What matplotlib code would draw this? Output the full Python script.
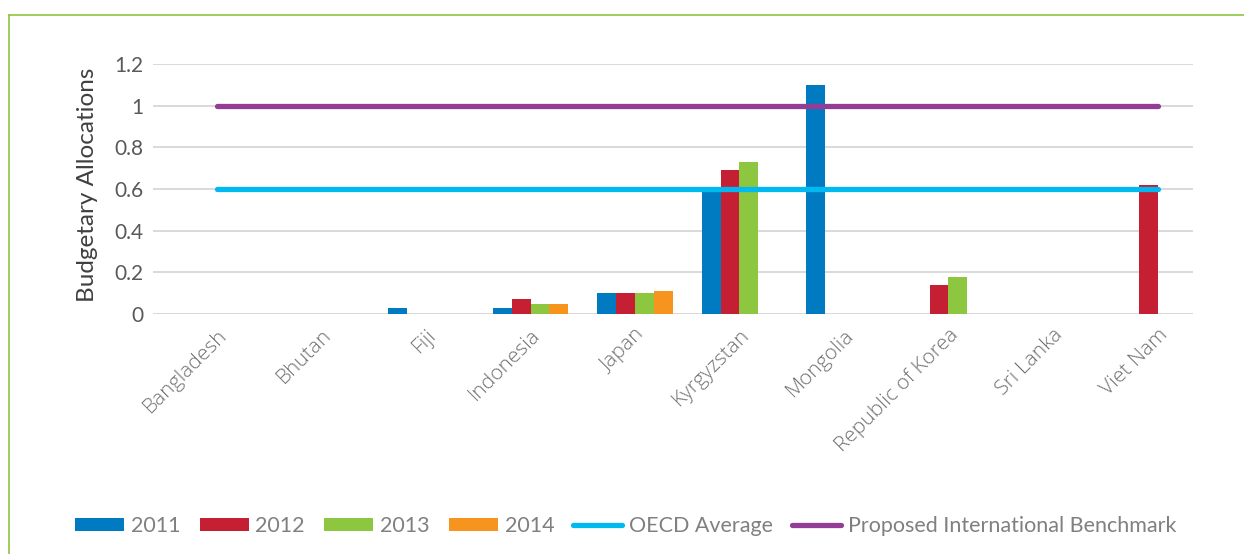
import matplotlib
matplotlib.use("Agg")
import matplotlib.pyplot as plt
import matplotlib.transforms as mtransforms
import numpy as np
from matplotlib.patches import Patch
from matplotlib.lines import Line2D

countries = ["Bangladesh", "Bhutan", "Fiji", "Indonesia", "Japan", "Kyrgyzstan",
             "Mongolia", "Republic of Korea", "Sri Lanka", "Viet Nam"]
years = ["2011", "2012", "2013", "2014"]
v2011 = [0, 0, 0.03, 0.03, 0.10, 0.60, 1.10, 0, 0, 0]
v2012 = [0, 0, 0, 0.07, 0.10, 0.69, 0, 0.14, 0, 0.62]
v2013 = [0, 0, 0, 0.05, 0.10, 0.73, 0, 0.18, 0, 0]
v2014 = [0, 0, 0, 0.05, 0.11, 0, 0, 0, 0, 0]
oecd_average = 0.6
benchmark = 1.0
yticks = [0, 0.2, 0.4, 0.6, 0.8, 1, 1.2]
ytick_labels = ["0", "0.2", "0.4", "0.6", "0.8", "1", "1.2"]

bar_colors = ["#007bc2", "#c41f33", "#8dc63f", "#f7941d"]
oecd_color = "#00b9f1"
bench_color = "#943d96"

W, H = 1244, 554
fig = plt.figure(figsize=(W / 100, H / 100), dpi=100)
ax = fig.add_axes([153 / W, 1 - 314 / H, (1193 - 153) / W, (314 - 64) / H])

x = np.arange(len(countries))
w = 0.18
series = [v2011, v2012, v2013, v2014]
handles = []
for k, (vals, col, lab) in enumerate(zip(series, bar_colors, years)):
    ax.bar(x + (k - 1.5) * w, vals, width=w, color=col, zorder=2, linewidth=0)
    handles.append(Patch(facecolor=col, label=lab))

lw = 3.8
ax.plot([x[0], x[-1]], [oecd_average] * 2, color=oecd_color, lw=lw,
        solid_capstyle="round", zorder=3, clip_on=False)
ax.plot([x[0], x[-1]], [benchmark] * 2, color=bench_color, lw=lw,
        solid_capstyle="round", zorder=3, clip_on=False)
handles.append(Line2D([], [], color=oecd_color, lw=lw, solid_capstyle="round",
                      label="OECD Average"))
handles.append(Line2D([], [], color=bench_color, lw=lw, solid_capstyle="round",
                      label="Proposed International Benchmark"))

ax.set_xlim((153 - 217) / 104.5, (1193 - 217) / 104.5)
ax.set_ylim(0, 1.2)
ax.set_yticks(yticks)
ax.set_yticklabels(ytick_labels, family="Lato", fontsize=15,
                   color="#595959")
ax.set_xticks(x)
ax.set_xticklabels(countries, rotation=45, ha="right", va="top",
                   rotation_mode="anchor", family="Open Sans", fontsize=15,
                   color="#707070")
shift = mtransforms.ScaledTranslation(-6 / 100, 0, fig.dpi_scale_trans)
for t in ax.get_xticklabels():
    t.set_fontweight("light")
    t.set_transform(t.get_transform() + shift)
ax.tick_params(axis="both", length=0)
ax.tick_params(axis="y", pad=7)
ax.tick_params(axis="x", pad=8)
ax.grid(axis="y", color="#d9d9d9", lw=1.4, zorder=0)
ax.set_axisbelow(True)
for s in ax.spines.values():
    s.set_visible(False)

fig.text(88 / W, 1 - 185 / H, "Budgetary Allocations", rotation=90, ha="center",
         va="center", family="Lato", fontsize=17.5, color="#404040")

fs = 15.5
px = fs * 100 / 72
fig.legend(handles=handles, loc="center left",
           bbox_to_anchor=(75 / W, 1 - 526 / H), ncol=6, frameon=False,
           prop={"family": "Lato", "size": fs},
           labelcolor="#808080", borderpad=0, borderaxespad=0,
           handlelength=49 / px, handleheight=11 / px, handletextpad=7 / px,
           columnspacing=19 / px)

# green frame
fig.add_artist(Line2D([9 / W, 1], [1 - 15 / H, 1 - 15 / H], color="#8dc63f",
                      lw=1.2, transform=fig.transFigure))
fig.add_artist(Line2D([9 / W, 9 / W], [0, 1 - 15 / H], color="#8dc63f",
                      lw=1.2, transform=fig.transFigure))

fig.savefig("out.png", dpi=100)
